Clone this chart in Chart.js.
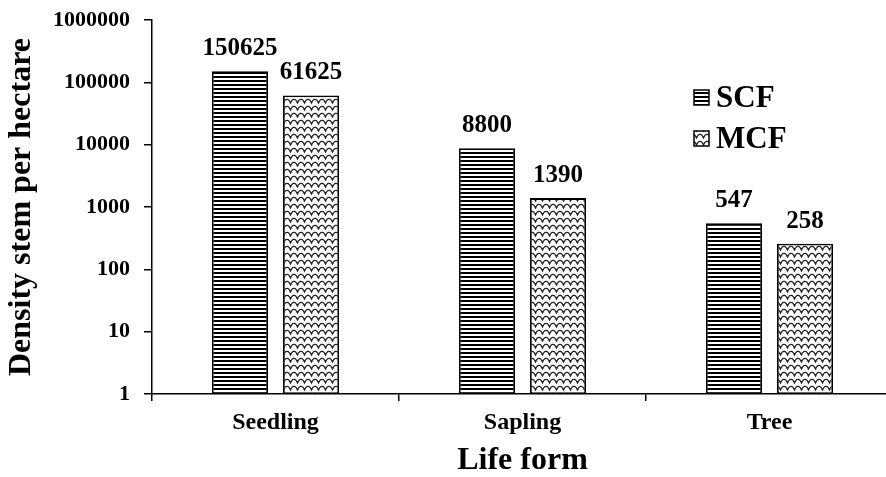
<!DOCTYPE html>
<html>
<head>
<meta charset="utf-8">
<script src="https://cdn.jsdelivr.net/npm/chart.js@4.4.1/dist/chart.umd.min.js"></script>
<style>
    html, body { margin: 0; padding: 0; background: #fff; overflow: hidden; }
    #wrap { width: 893px; height: 480px; }
</style>
</head>
<body>
<div id="wrap"><canvas id="densityChart" width="893" height="480"></canvas></div>
<script>
// Datos
const lifeForms = ['Seedling', 'Sapling', 'Tree'];
const scfValues = [150625, 8800, 547];
const mcfValues = [61625, 1390, 258];
const yTicks = [1, 10, 100, 1000, 10000, 100000, 1000000];

const FONT = "'Liberation Serif', 'Times New Roman', serif";

// Patron de lineas horizontales (SCF)
function stripePattern(ctx) {
    const c = document.createElement('canvas');
    c.width = 8;
    c.height = 4;
    const p = c.getContext('2d');
    p.fillStyle = '#fff';
    p.fillRect(0, 0, 8, 4);
    p.fillStyle = '#000';
    p.fillRect(0, 0, 8, 2);
    return ctx.createPattern(c, 'repeat');
}

// Patron ondulado (MCF)
function wavePattern(ctx) {
    const c = document.createElement('canvas');
    c.width = 14;
    c.height = 7;
    const p = c.getContext('2d');
    p.fillStyle = '#fff';
    p.fillRect(0, 0, 14, 7);
    p.strokeStyle = '#222';
    p.lineWidth = 1.3;
    p.beginPath();
    p.moveTo(-3.5, 5);
    p.quadraticCurveTo(-1.75, 1, 0, 1.5);
    p.quadraticCurveTo(1.75, 1, 3.5, 5);
    p.quadraticCurveTo(5.25, 1, 7, 1.5);
    p.quadraticCurveTo(8.75, 1, 10.5, 5);
    p.quadraticCurveTo(12.25, 1, 14, 1.5);
    p.quadraticCurveTo(15.75, 1, 17.5, 5);
    p.stroke();
    return ctx.createPattern(c, 'repeat');
}

const ctx = document.getElementById('densityChart').getContext('2d');
const scfFill = stripePattern(ctx);
const mcfFill = wavePattern(ctx);

// Etiquetas de valor sobre cada barra
const valueLabels = {
    id: 'valueLabels',
    afterDatasetsDraw(chart) {
        const c = chart.ctx;
        c.save();
        c.font = 'bold 25px ' + FONT;
        c.fillStyle = '#000';
        c.textAlign = 'center';
        c.textBaseline = 'alphabetic';
        chart.data.datasets.forEach((ds, i) => {
            chart.getDatasetMeta(i).data.forEach((bar, j) => {
                c.fillText(String(ds.data[j]), bar.x, bar.y - 16);
            });
        });
        c.restore();
    }
};

// Leyenda dentro del area del grafico
const innerLegend = {
    id: 'innerLegend',
    afterDraw(chart) {
        const c = chart.ctx;
        const rows = [98, 139];
        c.save();
        c.font = 'bold 31px ' + FONT;
        c.textBaseline = 'middle';
        c.textAlign = 'left';
        chart.data.datasets.forEach((ds, i) => {
            const y = rows[i];
            c.fillStyle = ds.backgroundColor;
            c.fillRect(694, y - 8, 15, 15);
            c.strokeStyle = '#000';
            c.lineWidth = 1.5;
            c.strokeRect(694, y - 8, 15, 15);
            c.fillStyle = '#000';
            c.fillText(ds.label, 716, y + 1);
        });
        c.restore();
    }
};

new Chart(ctx, {
    type: 'bar',
    data: {
        labels: lifeForms,
        datasets: [{
            label: 'SCF',
            data: scfValues,
            backgroundColor: scfFill,
            borderColor: '#000',
            borderWidth: 1.8,
            borderSkipped: false
        }, {
            label: 'MCF',
            data: mcfValues,
            backgroundColor: mcfFill,
            borderColor: '#000',
            borderWidth: 1.8,
            borderSkipped: false
        }]
    },
    options: {
        responsive: false,
        animation: false,
        devicePixelRatio: 1,
        categoryPercentage: 0.5755,
        barPercentage: 0.789,
        layout: { padding: { top: 20, right: 0, bottom: 0, left: 0 } },
        plugins: {
            legend: { display: false },
            tooltip: { enabled: false }
        },
        scales: {
            x: {
                grid: {
                    display: true,
                    drawOnChartArea: false,
                    drawTicks: true,
                    tickLength: 7,
                    color: '#000',
                    lineWidth: 1.5
                },
                border: { display: true, color: '#000', width: 1.5 },
                ticks: {
                    color: '#000',
                    padding: 7,
                    font: { family: FONT, size: 24, weight: 'bold' }
                },
                title: {
                    display: true,
                    text: 'Life form',
                    color: '#000',
                    padding: { top: 0, bottom: 0 },
                    font: { family: FONT, size: 32, weight: 'bold' }
                },
                afterFit(scale) {
                    scale.height = 86;
                    scale.paddingLeft = 0;
                    scale.paddingRight = 0;
                }
            },
            y: {
                type: 'logarithmic',
                min: 1,
                max: 1000000,
                grid: {
                    display: true,
                    drawOnChartArea: false,
                    drawTicks: true,
                    tickLength: 8,
                    color: '#000',
                    lineWidth: 1.5
                },
                border: { display: true, color: '#000', width: 1.5 },
                afterBuildTicks(scale) {
                    scale.ticks = yTicks.map(v => ({ value: v }));
                },
                ticks: {
                    color: '#000',
                    padding: 14,
                    font: { family: FONT, size: 22, weight: 'bold' },
                    callback: v => String(v)
                },
                title: {
                    display: true,
                    text: 'Density stem per hectare',
                    color: '#000',
                    padding: { top: 3, bottom: 0 },
                    font: { family: FONT, size: 32, weight: 'bold' }
                },
                afterFit(scale) {
                    scale.width = 152;
                    scale.paddingTop = 0;
                    scale.paddingBottom = 0;
                }
            }
        }
    },
    plugins: [valueLabels, innerLegend]
});
</script>
</body>
</html>
